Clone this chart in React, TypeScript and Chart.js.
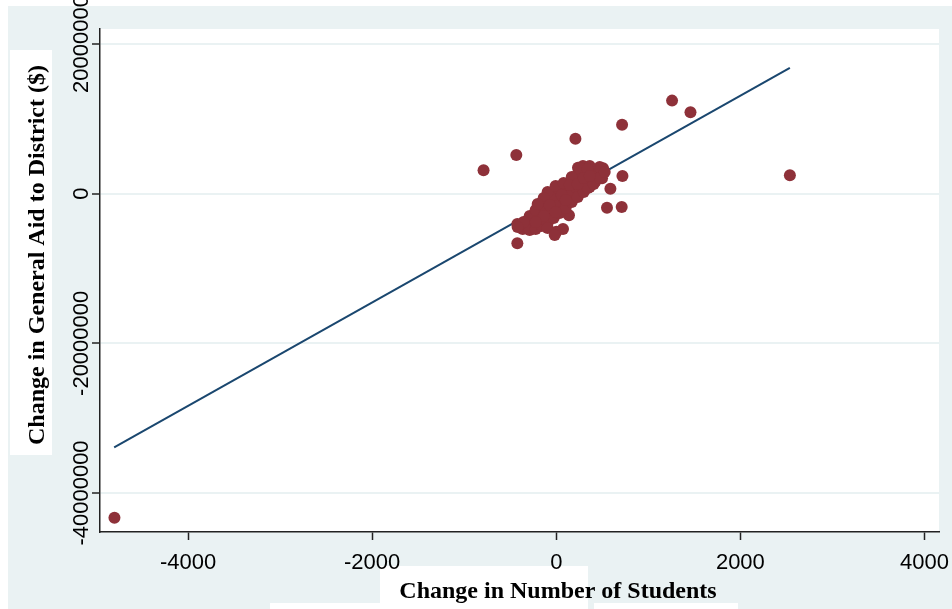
import React, { useEffect, useRef } from "react";
import { Chart, registerables } from "chart.js";

Chart.register(...registerables);

// Tick values
const xTickValues = [-4000, -2000, 0, 2000, 4000];
const yTickValues = [20000000, 0, -20000000, -40000000];

// Axis titles
const xTitle = "Change in Number of Students";
const yTitle = "Change in General Aid to District ($)";

// Scatter: change in students (x) vs change in general aid (y)
const studentChange = [
  -4800, -790, -434, 208, 715, 1258, 1458, 2538, 719, 588, 551, 711, 508, 497, 290, 236,
  -423, -423, 138, 1, 73, -271,
  -365, -311, -246, -181, -115, -50, 15, 80, 146, 211, 276, 342, 407, 472,
  -289, -224, -159, -94, -28, 37, 102, 168, 233, 298, 363,
  -289, -224, -159, -94, -28, 37, 102, 168, 233, 298, 363, 429,
  -94, -7, 80, 168, 255, 342, -137, -202,
  -94, -17, 342, 407, 472, 526,
  -355, -420,
  -72, 59, 146, 233, -137, -224, -7, 102, 298, 363,
];
const aidChange = [
  -43300000, 3130000, 5170000, 7350000, 9220000, 12430000, 10880000, 2460000, 2370000, 670000, -1870000, -1780000, 3390000, 2060000, 3700000, 3470000,
  -6630000, -4050000, -2890000, -5080000, -4720000, -4620000,
  -4720000, -4580000, -3920000, -3250000, -2580000, -1910000, -1240000, -570000, 230000, 900000, 1560000, 2230000, 2900000, 3570000,
  -2980000, -2180000, -1510000, -840000, -170000, 490000, 1300000, 1960000, 2630000, 3170000, 3700000,
  -4850000, -4720000, -4320000, -3920000, -3250000, -2580000, -1910000, -1110000, -440000, 230000, 900000, 1700000,
  230000, 1030000, 1430000, 2230000, 3430000, 3300000, -570000, -1380000,
  -4580000, -5520000, 760000, 1300000, 2100000, 2900000,
  -3780000, -4450000,
  -1510000, -170000, 1160000, 1300000, -2980000, -3780000, -2450000, -840000, 2100000, 2370000,
];

// Fitted regression line endpoints
const fitX = [-4803, 2538];
const fitY = [-33890000, 16820000];

const OUTER_BG = "#EAF2F3";

const App = () => {
  const canvasRef = useRef<HTMLCanvasElement | null>(null);

  useEffect(() => {
    document.body.style.margin = "0";
    const canvas = canvasRef.current;
    if (!canvas) return;

    const bgPlugin = {
      id: "stataBg",
      beforeDraw(chart: any) {
        const ctx = chart.ctx;
        const { left, top, right, bottom } = chart.chartArea;
        ctx.save();
        ctx.fillStyle = "#ffffff";
        ctx.fillRect(0, 0, chart.width, chart.height);
        ctx.fillStyle = OUTER_BG;
        ctx.fillRect(8, 6, chart.width - 8, chart.height - 6);
        ctx.fillStyle = "#ffffff";
        // white patches behind titles
        ctx.fillRect(10, 50, 42, 405);
        ctx.fillRect(380, 566, 208, 43);
        ctx.fillRect(270, 603, 110, 6);
        ctx.fillRect(594, 603, 144, 6);
        ctx.fillRect(left, top, right - left, bottom - top);
        ctx.restore();
      },
      afterDraw(chart: any) {
        const ctx = chart.ctx;
        const xs = chart.scales.x;
        const ys = chart.scales.y;
        ctx.save();
        ctx.fillStyle = "#000000";
        ctx.font = '22px "Liberation Sans", Arial, sans-serif';
        ctx.textAlign = "center";
        ctx.textBaseline = "alphabetic";
        xTickValues.forEach((v) => {
          ctx.fillText(String(v), xs.getPixelForValue(v), 569);
        });
        yTickValues.forEach((v) => {
          ctx.save();
          ctx.translate(88, ys.getPixelForValue(v));
          ctx.rotate(-Math.PI / 2);
          ctx.fillText(String(v), 0, 0);
          ctx.restore();
        });
        ctx.font = 'bold 24px "Liberation Serif", "Times New Roman", serif';
        ctx.fillText(xTitle, 558, 598);
        ctx.save();
        ctx.translate(44, 255);
        ctx.rotate(-Math.PI / 2);
        ctx.fillText(yTitle, 0, 0);
        ctx.restore();
        ctx.restore();
      },
    };

    const chart = new Chart(canvas, {
      type: "scatter",
      data: {
        datasets: [
          {
            type: "line",
            label: "Fitted values",
            data: fitX.map((x, i) => ({ x, y: fitY[i] })),
            borderColor: "#1A476F",
            borderWidth: 2,
            pointRadius: 0,
            fill: false,
            order: 2,
          } as any,
          {
            type: "scatter",
            label: "Change in General Aid",
            data: studentChange.map((x, i) => ({ x, y: aidChange[i] })),
            backgroundColor: "#8E3139",
            borderColor: "#8E3139",
            borderWidth: 0,
            pointRadius: 6,
            order: 1,
          },
        ],
      },
      options: {
        animation: false,
        responsive: false,
        maintainAspectRatio: false,
        layout: { padding: { top: 29, right: 13, left: 0, bottom: 0 } },
        plugins: { legend: { display: false }, tooltip: { enabled: false }, title: { display: false } },
        scales: {
          x: {
            type: "linear",
            min: -4957,
            max: 4158,
            afterBuildTicks: (s: any) => {
              s.ticks = xTickValues.map((v) => ({ value: v }));
            },
            afterFit: (s: any) => {
              s.height = 77;
            },
            ticks: { display: false },
            grid: {
              drawOnChartArea: false,
              drawTicks: true,
              tickLength: 8,
              tickColor: "#222222",
              tickWidth: 1.5,
            },
            border: { display: true, color: "#222222", width: 1.5 },
          },
          y: {
            type: "linear",
            min: -45210000,
            max: 22000000,
            afterBuildTicks: (s: any) => {
              s.ticks = yTickValues.map((v) => ({ value: v }));
            },
            afterFit: (s: any) => {
              s.width = 100;
            },
            ticks: { display: false },
            grid: {
              color: OUTER_BG,
              lineWidth: 2,
              drawTicks: true,
              tickLength: 8,
              tickColor: "#222222",
              tickWidth: 1.5,
            },
            border: { display: true, color: "#222222", width: 1.5 },
          },
        },
      },
      plugins: [bgPlugin],
    });

    return () => {
      chart.destroy();
    };
  }, []);

  return (
    <div style={{ position: "absolute", left: 0, top: 0, width: 952, height: 609 }}>
      <canvas ref={canvasRef} width={952} height={609} style={{ width: 952, height: 609, display: "block" }} />
    </div>
  );
};

export default App;
